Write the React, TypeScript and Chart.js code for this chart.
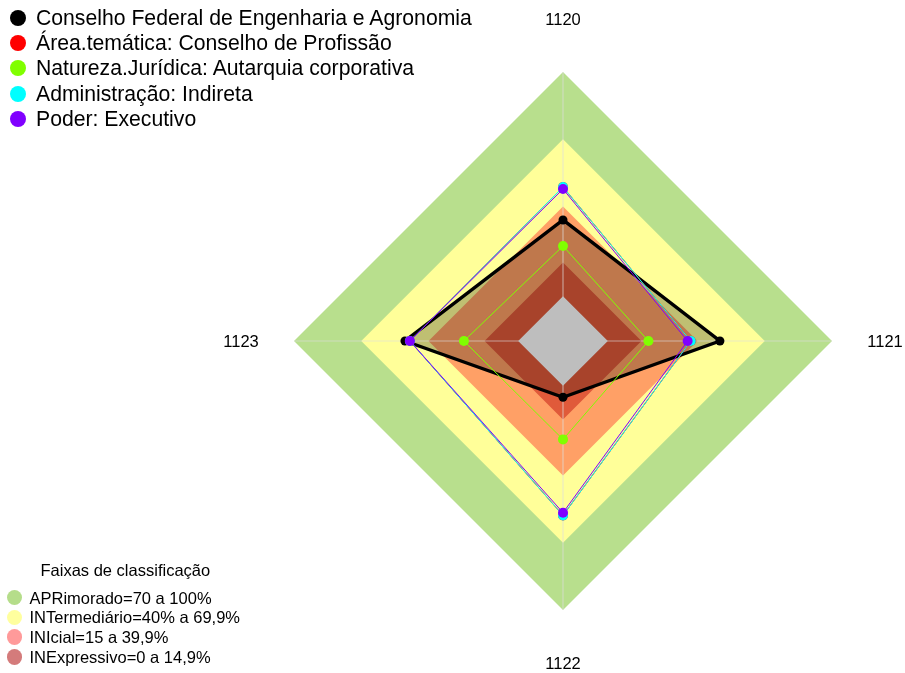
import React, { useEffect, useRef } from "react";
import { Chart, registerables } from "chart.js";

Chart.register(...registerables);

// ---- data ----
const axisLabels = ["1120", "1121", "1122", "1123"];

const seriesNames = [
  "Conselho Federal de Engenharia e Agronomia",
  "Área.temática: Conselho de Profissão",
  "Natureza.Jurídica: Autarquia corporativa",
  "Administração: Indireta",
  "Poder: Executivo",
];
const seriesColors = ["#000000", "#FF0000", "#80FF00", "#00FFFF", "#8000FF"];

const cfeaValues = [34.0, 50.0, 5.1, 50.5];
const areaValues = [48.7, 37.0, 57.8, 48.3];
const naturezaValues = [22.4, 18.1, 23.9, 24.2];
const administracaoValues = [48.7, 37.0, 57.8, 48.3];
const poderValues = [47.8, 35.6, 56.6, 48.3];

const bandLimits = [100, 70, 40, 15, 0];
const bandColors = ["#b8df8d", "#ffff99", "#ffa066", "#e05a3a", "#bebebe"];

const bandTitle = "Faixas de classificação";
const bandNames = [
  "APRimorado=70 a 100%",
  "INTermediário=40% a 69,9%",
  "INIcial=15 a 39,9%",
  "INExpressivo=0 a 14,9%",
];
const bandLegendColors = ["#b5dd8a", "#ffff9e", "#ff9a9a", "#d47b7b"];

const scaleMin = -20;
const scaleMax = 100;

const FONT = "'Liberation Sans', Arial, Helvetica, sans-serif";

export default function App() {
  const canvasRef = useRef<HTMLCanvasElement | null>(null);

  useEffect(() => {
    const canvas = canvasRef.current;
    if (!canvas) return;

    const seriesData = [cfeaValues, areaValues, naturezaValues, administracaoValues, poderValues];

    // series datasets (lower order = drawn on top)
    const seriesOrders = [5, 3, 2, 1, 0];
    const seriesDatasets = seriesNames.map((name, i) => ({
      label: name,
      data: seriesData[i],
      borderColor: seriesColors[i],
      backgroundColor: i === 0 ? "rgba(0,0,0,0.25)" : "rgba(0,0,0,0)",
      borderWidth: i === 0 ? 3.4 : 1,
      pointRadius: i === 0 ? 4.5 : 5,
      pointBorderWidth: 0,
      pointBackgroundColor: seriesColors[i],
      pointBorderColor: seriesColors[i],
      fill: i === 0 ? "start" : false,
      order: seriesOrders[i],
    }));

    // band datasets: green, yellow, orange, dark red, gray centre
    const bandOrders = [9, 8, 7, 6, 4];
    const bandDatasets = bandLimits.map((lim, i) => ({
      label: "band" + i,
      data: axisLabels.map(() => lim),
      borderColor: "rgba(0,0,0,0)",
      backgroundColor: bandColors[i],
      borderWidth: 0,
      pointRadius: 0,
      fill: "start",
      order: bandOrders[i],
    }));

    const midPlugin = {
      id: "midLayer",
      beforeDatasetDraw(chart: any, args: any) {
        const ds = chart.data.datasets[args.index];
        if (ds.label !== seriesNames[0]) return;
        const scale = chart.scales.r;
        const ctx = chart.ctx;
        ctx.save();
        ctx.strokeStyle = "rgba(222,222,222,0.6)";
        ctx.lineWidth = 1.2;
        for (let i = 0; i < axisLabels.length; i++) {
          const p = scale.getPointPositionForValue(i, scaleMax);
          ctx.beginPath();
          ctx.moveTo(scale.xCenter, scale.yCenter);
          ctx.lineTo(p.x, p.y);
          ctx.stroke();
        }
        ctx.restore();
      },
      afterDraw(chart: any) {
        const scale = chart.scales.r;
        const ctx = chart.ctx;
        ctx.save();
        ctx.fillStyle = "#000000";
        ctx.font = "16.5px " + FONT;
        ctx.textAlign = "center";
        ctx.textBaseline = "middle";
        const dist = scale.drawingArea * (322 / 269);
        axisLabels.forEach((lab, i) => {
          const p = scale.getPointPosition(i, dist);
          ctx.fillText(lab, p.x, p.y + 1);
        });
        ctx.restore();
      },
    };

    const chart = new Chart(canvas, {
      type: "radar",
      data: {
        labels: axisLabels,
        datasets: [...seriesDatasets, ...bandDatasets] as any,
      },
      options: {
        responsive: false,
        animation: false,
        layout: { padding: { left: 294, top: 72, right: 73, bottom: 63 } },
        plugins: {
          legend: { display: false },
          tooltip: { enabled: false },
        },
        elements: { line: { tension: 0 } },
        scales: {
          r: {
            min: scaleMin,
            max: scaleMax,
            ticks: { display: false },
            grid: { display: false },
            angleLines: { display: false },
            pointLabels: { display: false },
          },
        },
      } as any,
      plugins: [midPlugin],
    });

    return () => {
      chart.destroy();
    };
  }, []);

  const topRowY = (i: number) => 17.5 + i * 25.4;
  const bottomRowY = (i: number) => 597.7 + i * 19.7;

  return (
    <div
      style={{
        position: "fixed",
        left: 0,
        top: 0,
        width: 905,
        height: 673,
        background: "#ffffff",
        fontFamily: FONT,
        color: "#000",
        overflow: "hidden",
      }}
    >
      <canvas
        ref={canvasRef}
        width={905}
        height={673}
        style={{ position: "absolute", left: 0, top: 0, width: 905, height: 673 }}
      />
      {seriesNames.map((name, i) => (
        <div key={name}>
          <div
            style={{
              position: "absolute",
              left: 10,
              top: topRowY(i) - 8,
              width: 16,
              height: 16,
              borderRadius: "50%",
              background: seriesColors[i],
            }}
          />
          <div
            style={{
              position: "absolute",
              left: 36,
              top: topRowY(i) - 12,
              height: 24,
              lineHeight: "24px",
              fontSize: 21.2,
              whiteSpace: "nowrap",
            }}
          >
            {name}
          </div>
        </div>
      ))}
      <div
        style={{
          position: "absolute",
          left: 40.5,
          top: 570.3 - 10,
          height: 20,
          lineHeight: "20px",
          fontSize: 16.5,
          whiteSpace: "nowrap",
        }}
      >
        {bandTitle}
      </div>
      {bandNames.map((name, i) => (
        <div key={name}>
          <div
            style={{
              position: "absolute",
              left: 6.5,
              top: bottomRowY(i) - 7.8,
              width: 15.6,
              height: 15.6,
              borderRadius: "50%",
              background: bandLegendColors[i],
            }}
          />
          <div
            style={{
              position: "absolute",
              left: 29.5,
              top: bottomRowY(i) - 10,
              height: 20,
              lineHeight: "20px",
              fontSize: 16.5,
              whiteSpace: "nowrap",
            }}
          >
            {name}
          </div>
        </div>
      ))}
    </div>
  );
}
